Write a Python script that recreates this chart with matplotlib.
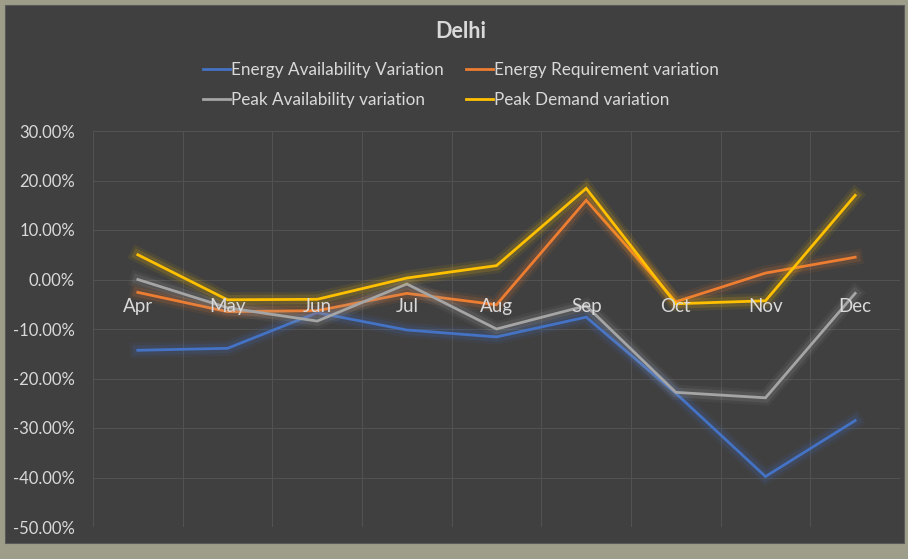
import matplotlib
matplotlib.use("Agg")
import matplotlib.pyplot as plt
import matplotlib.patheffects as pe
from matplotlib.patches import Rectangle
from matplotlib.ticker import FuncFormatter, MultipleLocator
import matplotlib.transforms as mtransforms

plt.rcParams['font.family'] = ['Lato', 'DejaVu Sans']

# data
months = ["Apr", "May", "Jun", "Jul", "Aug", "Sep", "Oct", "Nov", "Dec"]
energy_avail = [-14.3, -13.9, -6.7, -10.2, -11.6, -7.6, -23.0, -39.8, -28.5]
energy_req = [-2.6, -6.5, -6.3, -2.8, -5.1, 16.0, -4.5, 1.3, 4.5]
peak_avail = [0.0, -5.7, -8.4, -0.9, -10.0, -5.3, -22.8, -23.9, -2.8]
peak_demand = [5.0, -4.1, -4.0, 0.3, 2.8, 18.4, -4.9, -4.3, 17.0]

series = [
    ("Energy Availability Variation", energy_avail, "#4472C4"),
    ("Energy Requirement variation", energy_req, "#ED7D31"),
    ("Peak Availability variation", peak_avail, "#A5A5A5"),
    ("Peak Demand variation", peak_demand, "#FFC000"),
]

text_col = "#D9D9D9"
W, H = 908, 559

fig = plt.figure(figsize=(W / 100, H / 100), dpi=100)
fig.patch.set_facecolor("#9E9D89")
fig.patches.append(Rectangle((5 / W, 1 - 543 / H), 899 / W, 538 / H,
                             transform=fig.transFigure, facecolor="#404040",
                             edgecolor="#5a5a5a", linewidth=0.8, zorder=-10))

ax = fig.add_axes([93 / W, 1 - 527 / H, (900 - 93) / W, (527 - 131) / H])
ax.set_facecolor("none")

x = list(range(len(months)))
lines = []
for label, vals, col in series:
    ln, = ax.plot(x, vals, color=col, linewidth=2, label=label, zorder=3,
                  solid_joinstyle="miter",
                  path_effects=[pe.Stroke(linewidth=11, foreground=col, alpha=0.08),
                                pe.Stroke(linewidth=7, foreground=col, alpha=0.15),
                                pe.Normal()])
    lines.append(ln)

ax.set_xlim(-0.5, len(months) - 0.5)
ax.set_ylim(-50, 30)
ax.yaxis.set_major_locator(MultipleLocator(10))
ax.yaxis.set_major_formatter(FuncFormatter(lambda v, p: "{:.2f}%".format(v)))
ax.set_xticks([i + 0.5 for i in range(-1, len(months))])
ax.set_xticklabels([])
ax.tick_params(axis="both", length=0, colors=text_col, labelsize=12)
ax.tick_params(axis="y", pad=13)
ax.grid(True, color="#525252", linewidth=0.8, zorder=0)
for s in ax.spines.values():
    s.set_visible(False)

# category labels sit just below the zero line
offset = mtransforms.offset_copy(ax.transData, fig=fig, x=0, y=-27, units="dots")
for i, m in enumerate(months):
    ax.text(i, 0, m, transform=offset, ha="center", va="center",
            color=text_col, fontsize=13.5, zorder=4)

fig.text(461 / W, 1 - 31 / H, "Delhi", ha="center", va="center",
         color=text_col, fontsize=15.5, fontweight="bold")

# Excel fills the legend row by row
order = [0, 2, 1, 3]
leg = fig.legend([lines[i] for i in order], [series[i][0] for i in order],
                 loc="center", bbox_to_anchor=(461 / W, 1 - 85 / H), ncol=2,
                 frameon=False, fontsize=12.3, handlelength=1.6,
                 handletextpad=0.05, columnspacing=1.3, labelspacing=0.85)
for t in leg.get_texts():
    t.set_color(text_col)
for h in leg.legend_handles:
    h.set_path_effects([])

fig.savefig("out.png", dpi=100, facecolor=fig.get_facecolor())
